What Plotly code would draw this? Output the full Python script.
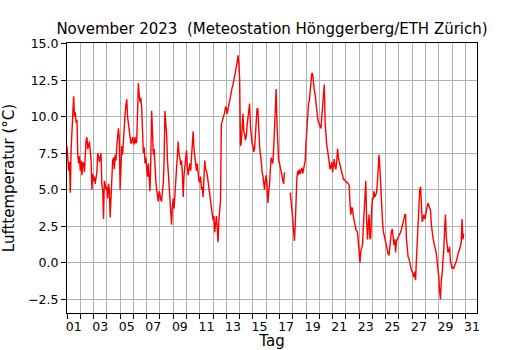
import plotly.graph_objects as go
import pandas as pd

title_text = "November 2023  (Meteostation Hönggerberg/ETH Zürich)"
x_title = "Tag"
y_title = "Lufttemperatur (°C)"
day_labels = ["01", "03", "05", "07", "09", "11", "13", "15", "17", "19",
              "21", "23", "25", "27", "29", "31"]
y_ticks = [-2.5, 0.0, 2.5, 5.0, 7.5, 10.0, 12.5, 15.0]

# air temperature, every 1.5 h from 1 Nov 2023 00:00
# (16 readings per day, None = missing data)
temps_nov01_07 = [
    8.0, 7.4, 6.3, 6.9, 4.8, 7.8, 9.5, 10.6, 11.4, 10.0, 10.3, 9.6, 9.8, 7.4, 6.8, 7.3,
    6.3, 7.0, 6.0, 6.9, 6.8, 6.2, 7.9, 8.4, 8.6, 7.8, 8.0, 8.3, 7.7, 7.0, 5.0, 6.1,
    5.6, 5.9, 5.4, 5.8, 6.2, 7.5, 7.3, 6.9, 7.2, 7.5, 5.3, 5.0, 3.0, 5.6, 5.4, 5.0,
    5.2, 4.4, 5.4, 5.0, 3.1, 4.9, 5.8, 7.0, 7.2, 6.4, 7.4, 7.0, 8.0, 8.6, 9.2, 8.5,
    5.0, 6.5, 8.0, 7.4, 8.6, 9.3, 10.2, 10.8, 11.2, 10.0, 9.4, 8.9, 8.6, 8.2, 8.2, 8.6,
    8.3, 8.1, 8.6, 8.2, 8.3, 10.0, 12.3, 11.5, 11.0, 11.3, 10.6, 9.0, 7.5, 7.9, 6.8, 7.2,
    6.3, 5.9, 6.8, 6.1, 4.9, 7.2, 10.4, 9.0, 7.4, 7.8, 6.0, 5.6, 5.0, 4.4, 4.2, 4.9,
]
temps_nov08_14 = [
    4.7, 4.3, 4.2, 4.9, 5.4, 7.0, 10.4, 9.6, 8.8, 7.1, 6.3, 5.0, 4.2, 3.4, 2.6, 3.8,
    4.4, 3.7, 4.8, 5.6, 6.5, 7.4, 8.3, 7.4, 7.2, 6.7, 7.0, 6.1, 4.5, 6.0, 6.8, 7.2,
    7.7, 6.6, 6.0, 6.4, 6.8, 6.3, 7.5, 8.3, 9.0, 7.8, 7.2, 6.6, 6.3, 6.8, 6.1, 5.6,
    5.5, 5.9, 5.0, 5.2, 4.5, 5.6, 7.0, 6.4, 6.3, 6.0, 5.5, 5.0, 4.6, 4.0, 3.7, 3.2,
    2.9, 3.2, 2.1, 2.6, 3.2, 2.4, 1.4, 2.9, 3.8, 4.3, 9.5, 9.7, 9.9, 10.2, 10.3, 10.7,
    10.6, 10.2, 10.5, 11.0, 11.3, 11.6, 11.8, 12.0, 12.2, 12.5, 12.6, 12.9, 13.2, 13.7, 14.2, 13.7,
    12.6, 8.0, 8.2, 9.1, 10.2, 9.0, 8.8, 8.4, 8.6, 9.4, 10.0, 10.5, 10.9, 9.4, 8.6, 8.2,
]
temps_nov15_21 = [
    8.0, 7.6, 7.8, 8.8, 9.8, 10.6, 10.5, 8.9, 8.0, 7.4, 7.0, 6.2, 6.0, 5.5, 5.0, 5.6,
    6.0, 5.4, 4.1, 4.8, 5.3, 6.4, 7.2, 7.0, 6.8, 7.8, 9.0, 10.5, 11.9, 9.5, 8.0, 7.0,
    6.8, 6.5, 6.3, 5.8, 5.6, 5.4, 6.2, None, None, None, None, None, None, 4.8, 4.3, 3.8,
    3.0, 2.2, 1.5, 2.6, 4.5, 5.8, 6.3, 6.0, 6.4, 6.1, 6.3, 6.5, 6.1, 6.4, 6.6, 7.0,
    8.2, 9.3, 10.2, 10.9, 11.1, 11.8, 12.2, 13.0, 12.9, 12.1, 11.8, 11.5, 10.8, 10.2, 9.9, 9.6,
    9.5, 9.4, 9.2, 10.0, 11.0, 11.5, 12.2, 9.6, 8.4, 8.0, 7.7, 7.3, 7.0, 6.4, 6.6, 6.9,
    6.2, 6.6, 7.1, 6.6, 6.4, 6.9, 7.8, 7.2, 6.9, 6.6, 6.5, 6.2, 6.0, 5.7, 5.7, 5.6,
]
temps_nov22_30 = [
    5.6, 5.5, 5.5, 5.4, 5.3, 4.0, 3.3, 3.8, 3.7, 3.2, 2.9, 2.5, 2.3, 2.2, 2.1, 1.4,
    0.4, 0.0, 0.8, 1.0, 1.2, 2.4, 3.3, 4.5, 5.6, 3.0, 1.6, 2.6, 3.3, 1.6, 1.8, 3.6,
    4.4, 4.4, 4.9, 4.5, 4.6, 4.8, 5.5, 7.0, 7.4, 6.5, 4.9, 3.6, 3.0, 2.2, 1.9, 1.6,
    1.4, 1.0, 0.9, 0.6, 0.5, 1.2, 1.3, 2.2, 2.3, 1.5, 1.2, 1.6, 0.7, 1.5, 1.6, 1.7,
    1.8, 1.9, 2.1, 2.3, 2.5, 2.8, 3.0, 3.3, 3.3, 1.6, 0.9, 0.4, 0.3, 0.0, -0.2, -0.5,
    -0.6, -0.8, -1.0, -0.6, -1.2, 0.2, 1.5, 3.5, 4.6, 5.0, 5.2, 4.3, 2.8, 3.0, 3.3, 3.0,
    3.2, 3.6, 4.0, 4.1, 3.9, 3.8, 3.6, 2.6, 2.0, 1.7, 1.4, 1.2, 0.9, 0.6, 0.1, -0.5,
    -1.0, -2.0, -2.5, -1.2, -0.8, 0.2, 0.9, 2.3, 3.3, 1.8, 1.2, 0.7, 0.8, 1.1, 0.1, -0.2,
    -0.4, -0.3, -0.4, -0.2, -0.1, 0.1, 0.3, 0.6, 0.8, 0.9, 1.1, 1.4, 3.0, 1.6, 2.0,
]

temps = temps_nov01_07 + temps_nov08_14 + temps_nov15_21 + temps_nov22_30
times = pd.date_range("2023-11-01 00:00", periods=len(temps), freq="90min")

midnights = pd.date_range("2023-11-01", "2023-12-01", freq="D")
label_pos = [d + pd.Timedelta(hours=12) for d in midnights[::2]]

FONT = "DejaVu Sans, Arial, sans-serif"
GRID = "#b0b0b0"

fig = go.Figure()
fig.add_trace(go.Scatter(
    x=times, y=temps, mode="lines",
    line=dict(color="#ff0000", width=1.4),
    connectgaps=False, showlegend=False,
))

fig.update_layout(
    width=530, height=350,
    margin=dict(l=67, r=53, t=43, b=37, autoexpand=False),
    paper_bgcolor="white", plot_bgcolor="white",
    font=dict(family=FONT, size=12.5, color="black"),
    title=dict(text=title_text, font=dict(size=15, color="black"),
               x=(67 + 205) / 530, xanchor="center",
               y=1 - 33.5 / 350, yanchor="bottom", yref="container"),
)

fig.update_xaxes(
    type="date", automargin=False,
    range=[pd.Timestamp("2023-11-01 00:00"), pd.Timestamp("2023-12-01 21:00")],
    tickmode="array", tickvals=label_pos, ticktext=day_labels,
    ticks="outside", ticklen=2, tickcolor="rgba(0,0,0,0)",
    showgrid=False, zeroline=False,
    showline=True, linecolor="black", linewidth=1, mirror=True,
    minor=dict(tickmode="array", tickvals=list(midnights), ticks="outside",
               ticklen=5, tickcolor="black", tickwidth=1,
               showgrid=True, gridcolor=GRID, gridwidth=1),
    title=dict(text=x_title, standoff=11),
)

fig.update_yaxes(
    automargin=False,
    range=[-3.44, 15.05],
    tickmode="array", tickvals=y_ticks, tickformat=".1f",
    ticks="outside", ticklen=5, tickcolor="black", tickwidth=1,
    showgrid=True, gridcolor=GRID, gridwidth=1, zeroline=False,
    showline=True, linecolor="black", linewidth=1, mirror=True,
    title=dict(text=y_title, standoff=9),
)

fig.write_html(
    "out.html",
    config={"displayModeBar": False},
    post_script="document.body.style.margin='0';document.body.style.padding='0';",
)
